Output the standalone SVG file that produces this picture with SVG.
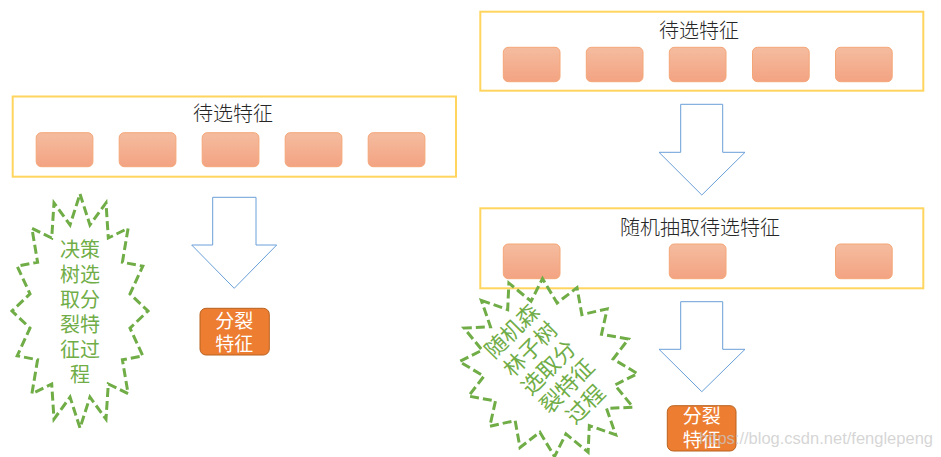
<svg xmlns="http://www.w3.org/2000/svg" width="941" height="457" viewBox="0 0 941 457">
  <defs>
    <linearGradient id="boxg" x1="0" y1="0" x2="0" y2="1">
      <stop offset="0" stop-color="#F5BC9F"/>
      <stop offset="1" stop-color="#F3A382"/>
    </linearGradient>
  </defs>
  <style>
    .frame{fill:none;stroke:#FFD55F;stroke-width:2}
    .cell{fill:url(#boxg);stroke:#F4A677;stroke-width:1}
    .title{font-family:"Noto Sans CJK SC","Noto Sans",sans-serif;font-size:20px;font-weight:300;fill:#262626;text-anchor:middle}
    .arrow{fill:#FFFFFF;stroke:#6A9FD8;stroke-width:1}
    .split{fill:#ED7D31;stroke:#B8621F;stroke-width:1}
    .splitT{font-family:"Noto Sans CJK SC","Noto Sans",sans-serif;font-size:19px;fill:#FFFFFF;text-anchor:middle}
    .star{fill:none;stroke:#70AD47;stroke-width:3;stroke-dasharray:9 4}
    .starT{font-family:"Noto Sans CJK SC","Noto Sans",sans-serif;fill:#70AD47;text-anchor:middle}
    .wm{font-family:"Liberation Sans",Arial,sans-serif;font-size:16.5px;fill:#C8C8C8;fill-opacity:0.75;text-anchor:end}
  </style>

  <!-- Left: candidate features -->
  <g id="left-candidates">
    <rect class="frame" x="12.7" y="96.5" width="443.3" height="80.2"/>
    <text class="title" x="233" y="121">待选特征</text>
    <rect class="cell" x="36.2" y="132.7" width="56.7" height="34" rx="5"/>
    <rect class="cell" x="119.2" y="132.7" width="56.7" height="34" rx="5"/>
    <rect class="cell" x="202.2" y="132.7" width="56.7" height="34" rx="5"/>
    <rect class="cell" x="285.2" y="132.7" width="56.7" height="34" rx="5"/>
    <rect class="cell" x="368.2" y="132.7" width="56.7" height="34" rx="5"/>
  </g>

  <!-- Left: decision tree star -->
  <g id="left-star">
    <polygon class="star" points="80,194 89.95,224.9 106,202.9 108.3,238 128.1,228.3 122.4,262.2 142.8,266.2 130,293.9 148,311 130,328.1 142.8,355.8 122.4,359.8 128.1,393.7 108.3,384 106,419.1 89.95,397.1 80,428 70.05,397.1 54,419.1 51.7,384 31.9,393.7 37.6,359.8 17.2,355.8 30,328.1 12,311 30,293.9 17.2,266.2 37.6,262.2 31.9,228.3 51.7,238 54,202.9 70.05,224.9"/>
    <g class="starT" font-size="20">
      <text x="80" y="256.5">决策</text>
      <text x="80" y="281.5">树选</text>
      <text x="80" y="306.5">取分</text>
      <text x="80" y="331.5">裂特</text>
      <text x="80" y="356.5">征过</text>
      <text x="80" y="381.5">程</text>
    </g>
  </g>

  <!-- Left: split feature -->
  <g id="left-split">
    <rect class="split" x="200" y="308.3" width="69.3" height="46.7" rx="6"/>
    <text class="splitT" x="234.2" y="327.5">分裂</text>
    <text class="splitT" x="234.2" y="351">特征</text>
  </g>

  <!-- Right: candidate features -->
  <g id="right-candidates">
    <rect class="frame" x="480.3" y="11.7" width="443" height="79"/>
    <text class="title" x="699" y="38">待选特征</text>
    <rect class="cell" x="503.3" y="47.3" width="56.7" height="34.4" rx="5"/>
    <rect class="cell" x="586.3" y="47.3" width="56.7" height="34.4" rx="5"/>
    <rect class="cell" x="669.3" y="47.3" width="56.7" height="34.4" rx="5"/>
    <rect class="cell" x="752.5" y="47.3" width="56.7" height="34.4" rx="5"/>
    <rect class="cell" x="835.5" y="47.3" width="56.7" height="34.4" rx="5"/>
  </g>

  <!-- Right: random sampled features -->
  <g id="right-sampled">
    <rect class="frame" x="480.3" y="208.3" width="443" height="80"/>
    <text class="title" x="700" y="234.5">随机抽取待选特征</text>
    <rect class="cell" x="503.3" y="244" width="56.7" height="34.7" rx="5"/>
    <rect class="cell" x="669.3" y="244" width="56.7" height="34.7" rx="5"/>
    <rect class="cell" x="835.5" y="244" width="56.7" height="34.7" rx="5"/>
  </g>

  <!-- Right: random forest star -->
  <g id="right-star" transform="translate(548.5,367.6) rotate(-45)">
    <polygon class="star" points="0,-95 12.15,-69.88 31.76,-87.77 34.59,-59.24 58.69,-67.18 51.76,-39.59 76.68,-36.36 61.06,-13.9 83,0 61.06,13.9 76.68,36.36 51.76,39.59 58.69,67.18 34.59,59.24 31.76,87.77 12.15,69.88 0,95 -12.15,69.88 -31.76,87.77 -34.59,59.24 -58.69,67.18 -51.76,39.59 -76.68,36.36 -61.06,13.9 -83,0 -61.06,-13.9 -76.68,-36.36 -51.76,-39.59 -58.69,-67.18 -34.59,-59.24 -31.76,-87.77 -12.15,-69.88"/>
    <g class="starT" font-size="22">
      <text x="0" y="-44">随机森</text>
      <text x="0" y="-18">林子树</text>
      <text x="0" y="8">选取分</text>
      <text x="0" y="34">裂特征</text>
      <text x="0" y="60">过程</text>
    </g>
  </g>

  <!-- Right: split feature -->
  <g id="right-split">
    <rect class="split" x="667.3" y="405.7" width="68.7" height="45.3" rx="6"/>
    <text class="splitT" x="701.7" y="423">分裂</text>
    <text class="splitT" x="701.7" y="446.5">特征</text>
  </g>

  <!-- Connectors (block arrows) -->
  <g id="connectors">
    <polygon class="arrow" points="212.7,197.3 256,197.3 256,245 276.7,245 234.2,288.3 191.7,245 212.7,245"/>
    <polygon class="arrow" points="680.7,104.3 722.7,104.3 722.7,152.3 745,152.3 701.8,195 659,152.3 680.7,152.3"/>
    <polygon class="arrow" points="680.7,301.7 722.7,301.7 722.7,349.3 745,349.3 701.8,391.7 659,349.3 680.7,349.3"/>
  </g>

  <text class="wm" x="933" y="444">https://blog.csdn.net/fenglepeng</text>
</svg>
